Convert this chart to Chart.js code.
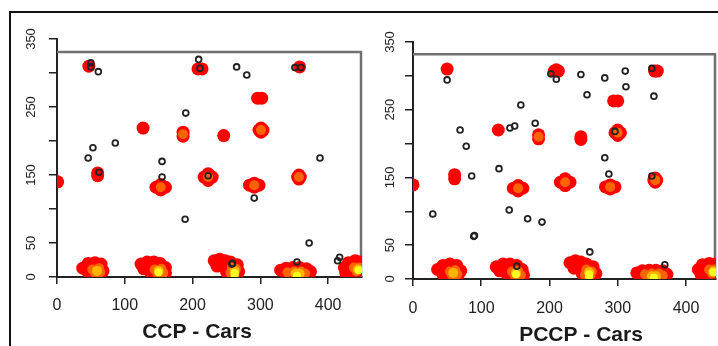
<!DOCTYPE html>
<html><head><meta charset="utf-8">
<script src="https://cdn.jsdelivr.net/npm/chart.js@4.4.1/dist/chart.umd.min.js"></script>
<style>
html,body{margin:0;padding:0;background:#fff;overflow:hidden;width:718px;height:346px;}
#frame{position:absolute;left:9px;top:11px;width:720px;height:340px;border-top:2px solid #111;border-left:2px solid #111;}
#c1{position:absolute;left:0;top:0;}
#c2{position:absolute;left:362px;top:0;}
</style></head><body>
<div id="frame"></div>
<canvas id="c1" width="376" height="346"></canvas>
<canvas id="c2" width="438" height="346"></canvas>
<script>
// ---------- data ----------
const xTickStep = 100;
const yTickStep = 50;
const yTickLabels = [0, 50, 150, 250, 350];
const panelTitles = ['CCP - Cars', 'PCCP - Cars'];

// CCP panel: density levels (low = red, mid = orange, high = amber, peak = yellow)
const ccpDensityLow = [
  [47,310],[208,306],[214,306],[358,309],[296,263],[302,263],[127,219],
  [186,213],[186,207],[246,208],[301,219],[301,213],[298,216],[304,216],
  [1,140],[60,153],[60,149],
  [146,132],[160,132],[153,136],[153,128],
  [217,147],[229,147],[223,152],[223,142],
  [284,135],[298,135],[291,138],[291,132],
  [357,150],[357,144],[355,147],[359,147],
  [38,13],[46,20],[56,21],[65,19],[68,9],[56,6],[46,7],
  [124,19],[133,22],[143,22],[152,20],[160,14],[160,6],[150,5],[138,7],[128,12],
  [232,24],[240,26],[248,24],[256,22],[266,18],[268,8],[258,5],[250,8],[236,16],
  [330,10],[338,13],[348,14],[358,14],[368,12],[374,8],[366,4],[352,4],[340,4],
  [424,14],[430,21],[440,24],[446,22],[446,10],[436,6],[426,6]
];
const ccpDensityMid = [
  [186,210],[301,216],[153,132],[223,147],[291,135],[357,147],
  [52,11],[62,13],[64,7],[56,6],
  [144,11],[154,12],[157,6],[148,5],
  [258,14],[264,12],[262,6],[256,6],
  [340,7],[350,8],[360,8],[366,5],[354,4],
  [438,14],[446,14],[442,8]
];
const ccpDensityHigh = [[59,9],[150,9],[262,9],[352,5],[358,5],[444,11]];
const ccpDensityPeak = [[150,7],[262,6],[262,3],[354,2],[445,10]];
const ccpPoints = [
  [50,315],[50,309],[61,302],[209,320],[211,307],[265,309],[280,297],[351,308],[360,308],
  [190,241],[53,190],[46,175],[86,197],[155,170],[388,175],[62,154],[155,147],[223,149],
  [291,116],[189,85],[258,19],[259,20],[354,22],[372,50],[414,24],[417,29]
];
const ccpXMax = 450, ccpPlotTop = 331;

// PCCP panel
const pccpDensityLow = [
  [50,310],[207,307],[213,307],[210,309],[354,307],[358,307],[294,263],[300,263],[125,220],
  [184,213],[184,207],[246,210],[246,206],[296,216],[304,216],[300,220],[300,212],
  [0,139],[61,154],[61,148],
  [147,134],[161,134],[154,138],[154,130],
  [216,143],[230,143],[223,148],[223,138],
  [282,136],[296,136],[289,139],[289,133],
  [355,149],[355,143],[353,146],[357,146],
  [36,14],[44,20],[54,22],[64,20],[70,12],[66,5],[54,5],[44,7],
  [122,18],[132,22],[142,22],[152,20],[160,14],[162,6],[150,5],[138,7],[127,12],
  [230,24],[238,27],[246,25],[254,22],[264,18],[268,8],[258,5],[248,8],[236,16],
  [328,9],[336,12],[346,13],[356,13],[366,12],[372,7],[364,3],[350,3],[338,3],
  [418,14],[424,21],[434,23],[442,22],[442,10],[432,6],[422,7]
];
const pccpDensityMid = [
  [184,210],[300,216],[154,134],[223,143],[289,136],[355,146],
  [54,11],[62,13],[65,7],[57,6],
  [145,11],[154,12],[158,6],[149,5],
  [254,14],[262,11],[260,6],[252,6],
  [340,7],[350,8],[360,8],[366,5],[354,4],
  [434,14],[442,14],[438,8]
];
const pccpDensityHigh = [[59,9],[151,9],[258,10],[350,4],[356,4],[440,11]];
const pccpDensityPeak = [[151,7],[258,7],[258,4],[353,2],[440,10]];
const pccpPoints = [
  [50,294],[202,303],[210,295],[246,302],[281,297],[311,307],[350,311],[255,272],[312,284],
  [353,270],[158,257],[69,220],[78,196],[142,223],[149,226],[179,230],[296,218],[281,179],
  [126,163],[86,152],[287,155],[29,96],[89,63],[90,64],[141,102],[168,89],[189,84],[152,19],
  [350,152],[259,40],[369,21]
];
const pccpXMax = 444, pccpPlotTop = 332;

// ---------- rendering ----------
const FAM = '"Liberation Sans", Arial, Helvetica, sans-serif';
const toXY = arr => arr.map(([x, y]) => ({x, y}));

function heat(data, color, r) {
  return {data: toXY(data), backgroundColor: color, borderWidth: 0,
          pointRadius: r, pointHoverRadius: r, clip: 0};
}

const plotBox = {
  id: 'plotBox',
  beforeDatasetsDraw(chart, args, opts) {
    const {ctx, chartArea: a, scales: {y}} = chart;
    const top = y.getPixelForValue(opts.top);
    ctx.save();
    ctx.strokeStyle = '#707070';
    ctx.lineWidth = 2.5;
    ctx.beginPath();
    ctx.moveTo(a.left, top);
    ctx.lineTo(a.right - 1, top);
    ctx.lineTo(a.right - 1, a.bottom);
    ctx.stroke();
    ctx.restore();
  }
};

function makeChart(id, p) {
  const scales = {
    x: {
      type: 'linear', min: 0, max: p.xMax,
      afterFit: s => { s.height = p.xAxisH; },
      ticks: {stepSize: xTickStep, includeBounds: false, autoSkip: false, maxRotation: 0,
              padding: p.xPad, color: '#222', font: {size: 16, family: FAM}},
      grid: {drawOnChartArea: false, tickLength: 7, color: '#222', lineWidth: 1.5},
      border: {color: '#222', width: 2}
    },
    y: {
      type: 'linear', min: 0, max: 350, position: 'left',
      afterFit: s => { s.width = p.yAxisW; },
      ticks: {stepSize: yTickStep, includeBounds: false, autoSkip: false,
              minRotation: 90, maxRotation: 90, crossAlign: 'center',
              padding: p.yPad, color: '#222', font: {size: 13, family: FAM},
              callback: v => yTickLabels.includes(v) ? String(v) : ''},
      grid: {drawOnChartArea: false, tickLength: 8, color: '#222', lineWidth: 1.5},
      border: {color: '#222', width: 2}
    },
    y2: {
      type: 'linear', position: 'right', display: true,
      afterFit: s => { s.width = p.rightW; },
      ticks: {display: false}, grid: {display: false}, border: {display: false}
    }
  };
  return new Chart(document.getElementById(id), {
    type: 'scatter',
    data: {datasets: [
      {data: toXY(p.points), backgroundColor: 'rgba(0,0,0,0)', borderColor: '#222',
       borderWidth: 1.8, pointRadius: 2.9, pointHoverRadius: 2.9, clip: 0},
      heat(p.peak, '#ffff20', 4),
      heat(p.high, '#ffb400', 5),
      heat(p.mid, '#ff6400', 5),
      heat(p.low, '#ff0000', 6.5)
    ]},
    options: {
      responsive: false, animation: false, events: [],
      layout: {padding: p.pad},
      scales,
      plugins: {
        legend: {display: false}, tooltip: {enabled: false},
        title: {display: true, text: p.title, position: 'bottom', color: '#1a1a1a',
                font: {size: 21, weight: 'bold', lineHeight: 1, family: FAM},
                padding: {top: 0, bottom: p.titleBottom}},
        plotBox: {top: p.plotTop}
      }
    },
    plugins: [plotBox]
  });
}

makeChart('c1', {
  title: panelTitles[0], xMax: ccpXMax, plotTop: ccpPlotTop,
  low: ccpDensityLow, mid: ccpDensityMid, high: ccpDensityHigh, peak: ccpDensityPeak, points: ccpPoints,
  pad: {left: 20, right: 2, top: 39, bottom: 0}, yAxisW: 37, rightW: 12, xAxisH: 44.5, titleBottom: 3.5,
  xPad: 12, yPad: 6.5
});
makeChart('c2', {
  title: panelTitles[1], xMax: pccpXMax, plotTop: pccpPlotTop,
  low: pccpDensityLow, mid: pccpDensityMid, high: pccpDensityHigh, peak: pccpDensityPeak, points: pccpPoints,
  pad: {left: 0, right: 0, top: 42, bottom: 0}, yAxisW: 51, rightW: 84, xAxisH: 45.5, titleBottom: 0.5,
  xPad: 13, yPad: 4
});
</script>
</body></html>
